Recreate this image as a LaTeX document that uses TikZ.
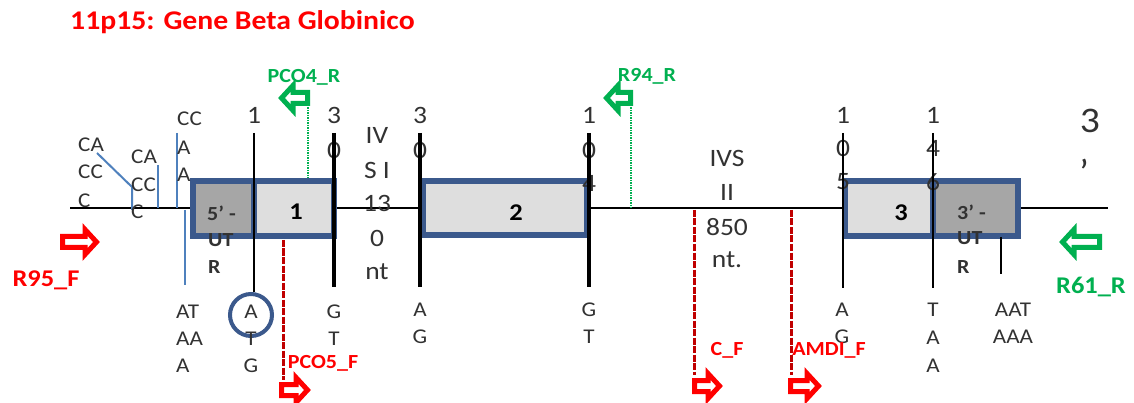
\documentclass[tikz,border=0pt]{standalone}
\usepackage{fontspec}
\setmainfont[FakeStretch=1.1]{Carlito}
\usetikzlibrary{calc}
\definecolor{boxblue}{RGB}{59,89,140}
\definecolor{thinblue}{RGB}{79,129,189}
\definecolor{ltgray}{RGB}{222,222,222}
\definecolor{dkgray}{RGB}{166,166,166}
\definecolor{pgreen}{RGB}{0,176,80}
\definecolor{dred}{RGB}{192,0,0}
\definecolor{txtgray}{RGB}{50,50,50}
\tikzset{
  exon/.style={draw=boxblue, line width=6, line join=miter, fill=ltgray},
  utr/.style={draw=boxblue, line width=6, line join=miter, fill=dkgray},
  tick/.style={line width=2.5, black},
  tickb/.style={line width=4, black},
  caat/.style={line width=2, thinblue},
  redd/.style={dred, line width=3, dash pattern=on 7pt off 1.5pt},
  grd/.style={pgreen, line width=1.5, dash pattern=on 1.5pt off 1pt},
  blockarr/.style={line width=5, fill=white, line join=miter},
  big/.style={inner sep=0, text=txtgray, font=\fontsize{25}{30}\selectfont},
  sm/.style={inner sep=0, text=txtgray, font=\fontsize{21}{24}\selectfont},
  smb/.style={inner sep=0, text=txtgray, font=\fontsize{20}{24}\selectfont\bfseries},
  exnum/.style={inner sep=0, text=black, font=\fontsize{24}{28}\selectfont\bfseries},
  rlab/.style={inner sep=0, text=red, font=\fontsize{20}{24}\selectfont\bfseries},
  glab/.style={inner sep=0, text=pgreen, font=\fontsize{20}{24}\selectfont\bfseries},
}
\newcommand\blockarrow[4]{% colour, tail x, tip x, y
  \pgfmathsetmacro\arrdir{sign(#3-#2)}%
  \pgfmathsetmacro\arrT{#2+\arrdir*2.5}%
  \pgfmathsetmacro\arrB{#3-\arrdir*15}%
  \pgfmathsetmacro\arrP{#3-\arrdir*3.5}%
  \pgfmathsetmacro\arrYa{#4-5.5}%
  \pgfmathsetmacro\arrYb{#4+5.5}%
  \pgfmathsetmacro\arrYc{#4-12.5}%
  \pgfmathsetmacro\arrYd{#4+12.5}%
  \draw[blockarr,draw=#1] (\arrT,\arrYa) -- (\arrB,\arrYa) -- (\arrB,\arrYc) -- (\arrP,#4) -- (\arrB,\arrYd) -- (\arrB,\arrYb) -- (\arrT,\arrYb) -- cycle;}
\begin{document}
\begin{tikzpicture}[x=1pt,y=-1pt]
\useasboundingbox[fill=white] (0,0) rectangle (1134,403);

% title
\node[anchor=west, inner sep=0, text=red, font=\fontsize{27}{30}\selectfont\bfseries] (title) at (70,22) {11p15: Gene Beta Globinico};

% main line
\coordinate (L0) at (70,208);
\coordinate (L1) at (1108,208);
\draw[line width=2.5] (L0) -- (L1);

% CAAT lines
\draw[caat] (97,153) -- (132,187) -- (132,210);
\draw[caat] (158,165) -- (158,208);
\draw[caat] (177,133) -- (177,208);
\draw[caat] (185,210) -- (185,285);

% boxes
\draw[utr] (193,181) rectangle (254,236);
\draw[exon] (254,181) rectangle (334,236);
\draw[exon] (423,181) rectangle (587,235);
\draw[exon] (845,181) rectangle (933,236);
\draw[utr] (933,181) rectangle (1018,236);

% green dotted lines
\draw[grd] (308,105) -- (308,178);
\draw[grd] (631,105) -- (631,208);

% red dashed lines
\draw[redd] (283,240) -- (283,380);
\draw[redd] (694,210) -- (694,375);
\draw[redd] (791,210) -- (791,375);

% numbers above
\node[big] (n1) at (254,115) {1};
\node[big] (n30a) at (334,115) {3};
\node[big] (n30b) at (334,150) {0};
\node[big] (n30c) at (420,115) {3};
\node[big] (n30d) at (420,150) {0};
\node[big] (n104a) at (589,115) {1};
\node[big] (n104b) at (589,150) {0};
\node[big] (n104c) at (589,183) {4};
\node[big] (n105a) at (843,115) {1};
\node[big] (n105b) at (843,148) {0};
\node[big] (n105c) at (843,182) {5};
\node[big] (n146a) at (933,115) {1};
\node[big] (n146b) at (933,148) {4};
\node[big] (n146c) at (933,182) {6};

% tick lines
\draw[tick] (254,133) -- (254,292);
\draw[tickb] (334,133) -- (334,287);
\draw[tickb] (420,133) -- (420,287);
\draw[tickb] (589,133) -- (589,287);
\draw[tick] (843,133) -- (843,288);
\draw[tick] (933,133) -- (933,288);
\draw[tick] (1001,237) -- (1001,274);

% ATG circle
\draw[boxblue, line width=4] (251,315) circle (21);

% IVS I
\node[big] (ivs1a) at (377,135) {IV};
\node[big] (ivs1b) at (377,170) {S I};
\node[big] (ivs1c) at (377,203) {13};
\node[big] (ivs1d) at (377,238) {0};
\node[big] (ivs1e) at (377,272) {nt};
% IVS II
\node[big] (ivs2a) at (727,158) {IVS};
\node[big] (ivs2b) at (727,192) {II};
\node[big] (ivs2c) at (727,227) {850};
\node[big] (ivs2d) at (727,260) {nt.};

% 3'
\node[inner sep=0, text=txtgray, font=\fontsize{36}{40}\selectfont] (three) at (1090,121) {3};
\node[inner sep=0, text=txtgray, font=\fontsize{36}{40}\selectfont] (prime) at (1084,172) {’};

% CAAT box texts
\node[sm, anchor=west] (c1a) at (78,145) {CA};
\node[sm, anchor=west] (c1b) at (78,172) {CC};
\node[sm, anchor=west] (c1c) at (78,201) {C};
\node[sm, anchor=west] (c2a) at (131,157) {CA};
\node[sm, anchor=west] (c2b) at (131,185) {CC};
\node[sm, anchor=west] (c2c) at (131,212) {C};
\node[sm, anchor=west] (c3a) at (177,119) {CC};
\node[sm, anchor=west] (c3b) at (177,148) {A};
\node[sm, anchor=west] (c3c) at (177,175) {A};

% UTR texts
\node[smb, anchor=west] (u5a) at (207,213) {5’ -};
\node[smb, anchor=west] (u5b) at (208,240) {UT};
\node[smb, anchor=west] (u5c) at (208,267) {R};
\node[smb, anchor=west] (u3a) at (957,212) {3’ -};
\node[smb, anchor=west] (u3b) at (957,238) {UT};
\node[smb, anchor=west] (u3c) at (957,267) {R};

% exon numbers
\node[exnum] (e1) at (296,212) {1};
\node[exnum] (e2) at (516,213) {2};
\node[exnum] (e3) at (901,213) {3};

% bottom letters
\node[sm, anchor=west] (b1a) at (176,312) {AT};
\node[sm, anchor=west] (b1b) at (176,339) {AA};
\node[sm, anchor=west] (b1c) at (176,366) {A};
\node[sm] (b2a) at (251,312) {A};
\node[sm] (b2b) at (251,339) {T};
\node[sm] (b2c) at (251,366) {G};
\node[sm] (b3a) at (334,312) {G};
\node[sm] (b3b) at (334,339) {T};
\node[sm] (b4a) at (420,310) {A};
\node[sm] (b4b) at (420,337) {G};
\node[sm] (b5a) at (589,310) {G};
\node[sm] (b5b) at (589,337) {T};
\node[sm] (b6a) at (842,310) {A};
\node[sm] (b6b) at (842,337) {G};
\node[sm] (b7a) at (933,310) {T};
\node[sm] (b7b) at (933,338) {A};
\node[sm] (b7c) at (933,366) {A};
\node[sm] (b8a) at (1013,310) {AAT};
\node[sm] (b8b) at (1013,337) {AAA};

% primer arrows
\blockarrow{red}{60}{100}{242}
\blockarrow{pgreen}{310}{278}{98}
\blockarrow{pgreen}{633}{603}{98}
\blockarrow{pgreen}{1102}{1059}{242}
\blockarrow{red}{279}{311}{390}
\blockarrow{red}{692}{723}{386}
\blockarrow{red}{788}{822}{386}

% primer labels
\node[rlab, font=\fontsize{24}{28}\selectfont\bfseries] (r95) at (46,280) {R95\_F};
\node[glab] (pco4) at (304,77) {PCO4\_R};
\node[glab] (r94) at (647,76) {R94\_R};
\node[glab, font=\fontsize{24}{28}\selectfont\bfseries] (r61) at (1091,287) {R61\_R};
\node[rlab] (pco5) at (323,363) {PCO5\_F};
\node[rlab] (cf) at (727,350) {C\_F};
\node[rlab] (amdi) at (829,350) {AMDI\_F};
\end{tikzpicture}
\end{document}
